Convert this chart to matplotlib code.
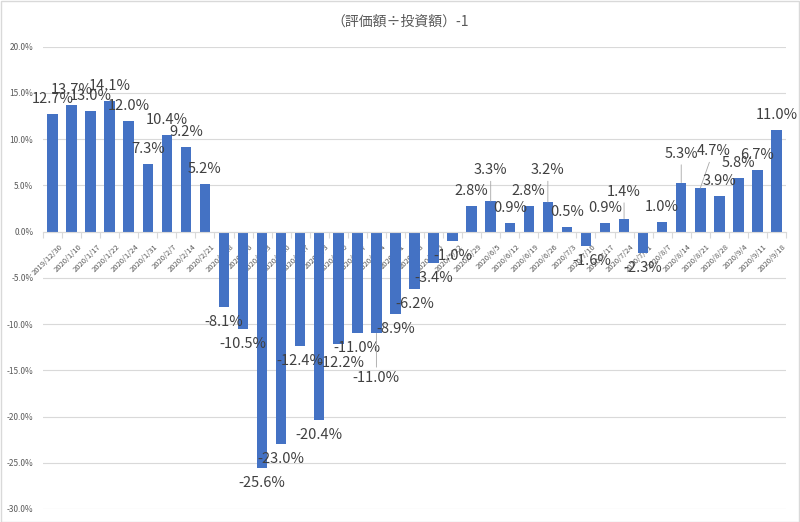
import numpy as np
import matplotlib
matplotlib.use("Agg")
import matplotlib.pyplot as plt
import matplotlib.transforms as mtransforms
from matplotlib.patches import Rectangle
from matplotlib.ticker import FuncFormatter, FixedLocator

plt.rcParams['font.family'] = ['Noto Sans CJK JP', 'DejaVu Sans']

# データ
dates = [
    "2019/12/30", "2020/1/10", "2020/1/17", "2020/1/22", "2020/1/24", "2020/1/31",
    "2020/2/7", "2020/2/14", "2020/2/21", "2020/2/28", "2020/3/6", "2020/3/13",
    "2020/3/20", "2020/3/27", "2020/4/3", "2020/4/10", "2020/4/17", "2020/4/24",
    "2020/5/1", "2020/5/8", "2020/5/15", "2020/5/22", "2020/5/29", "2020/6/5",
    "2020/6/12", "2020/6/19", "2020/6/26", "2020/7/3", "2020/7/10", "2020/7/17",
    "2020/7/24", "2020/7/31", "2020/8/7", "2020/8/14", "2020/8/21", "2020/8/28",
    "2020/9/4", "2020/9/11", "2020/9/18",
]
returns = [
    12.7, 13.7, 13.0, 14.1, 12.0, 7.3, 10.4, 9.2, 5.2, -8.1, -10.5, -25.6,
    -23.0, -12.4, -20.4, -12.2, -11.0, -11.0, -8.9, -6.2, -3.4, -1.0, 2.8, 3.3,
    0.9, 2.8, 3.2, 0.5, -1.6, 0.9, 1.4, -2.3, 1.0, 5.3, 4.7, 3.9,
    5.8, 6.7, 11.0,
]
title = "（評価額÷投資額）-1"

# 手で動かされたラベル (index: dx, dy, px) と引き出し線
label_nudge = {
    15: (3, -19), 17: (0, -45), 23: (0, 31), 26: (0, 32),
    30: (0, 27), 33: (0, 29), 34: (13, 37), 28: (6, -15),
}
leader = {17, 23, 26, 30, 33, 34}

W, H = 800, 522
fig = plt.figure(figsize=(W / 100, H / 100), dpi=100)
ax = fig.add_axes([43 / W, 1 - 509 / H, (786 - 43) / W, (509 - 46.7) / H])

x = np.arange(len(dates))
vals = np.array(returns) / 100
ax.bar(x, vals, width=0.55, color='#4472C4', zorder=3)

ax.set_xlim(-0.5, len(dates) - 0.5)
ax.set_ylim(-0.30, 0.20)
ax.set_yticks(np.arange(-0.30, 0.2001, 0.05))
ax.yaxis.set_major_formatter(FuncFormatter(lambda v, p: f"{round(v * 100, 1) + 0.0:.1f}%"))
ax.grid(axis='y', color='#d9d9d9', linewidth=0.8, zorder=0)
ax.tick_params(axis='y', length=0, pad=7, labelsize=6, labelcolor='#595959')

for s in ['top', 'right', 'left']:
    ax.spines[s].set_visible(False)
ax.spines['bottom'].set_position(('data', 0))
ax.spines['bottom'].set_color('#d9d9d9')
ax.spines['bottom'].set_zorder(4)

ax.set_xticks(x)
ax.set_xticklabels(dates)
ax.xaxis.set_minor_locator(FixedLocator(np.arange(-0.5, len(dates), 1.0)))
ax.tick_params(axis='x', which='major', length=0, pad=8, labelsize=5.5,
               labelcolor='#595959')
ax.tick_params(axis='x', which='minor', length=4, color='#d9d9d9', width=0.8)
shift = mtransforms.ScaledTranslation(6 / 100, 0, fig.dpi_scale_trans)
for lab in ax.get_xticklabels():
    lab.set_rotation(45)
    lab.set_ha('right')
    lab.set_rotation_mode('anchor')
    lab.set_transform(lab.get_transform() + shift)

# データラベル
for i, v in enumerate(vals):
    dx, dy = label_nudge.get(i, (0, 15 if v >= 0 else -15))
    ap = None
    if i in leader:
        ap = dict(arrowstyle='-', color='#a6a6a6', lw=0.6, shrinkA=1, shrinkB=0)
    ax.annotate(f"{returns[i]:.1f}%", xy=(i, v), xytext=(dx * 0.72, dy * 0.72),
                textcoords='offset points', ha='center', va='center',
                fontsize=10.5, color='#404040', arrowprops=ap, zorder=5)

fig.text(0.5, 1 - 22 / H, title, ha='center', va='center', fontsize=10, color='#595959')
fig.patches.append(Rectangle((0.5 / W, 0.5 / H), 1 - 1.5 / W, 1 - 1.5 / H,
                             transform=fig.transFigure, fill=False,
                             edgecolor='#d9d9d9', linewidth=1))

fig.savefig("out.png", dpi=100)
